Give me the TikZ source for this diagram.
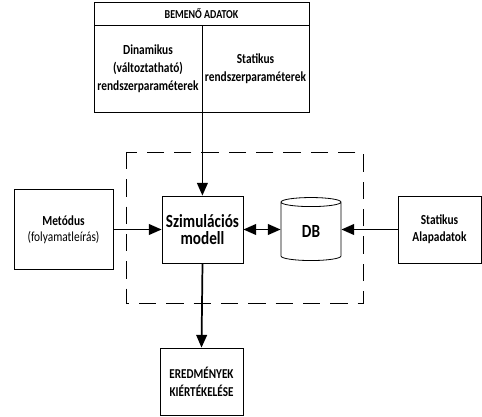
\documentclass[tikz,border=0pt]{standalone}
\usepackage{fontspec}
\setmainfont{Carlito}[FakeStretch=0.82]
\usetikzlibrary{arrows.meta,positioning,shapes.geometric}

\begin{document}
\begin{tikzpicture}[x=0.75pt,y=-0.75pt,>={Triangle[length=9.5pt,width=8pt]},
  box/.style={draw,line width=0.6pt,align=center,inner sep=0pt,font=\bfseries\fontsize{10.4}{13.3}\selectfont},
  flow/.style={->,line width=1.3pt}]
  \useasboundingbox (0,0) rectangle (482,417);
  % bemeno adatok
  \node[box,minimum width=161.25pt,minimum height=17.25pt,font=\bfseries\fontsize{9.1}{10}\selectfont] (hdr) at (201.5,13.5) {BEMENŐ ADATOK};
  \node[box,minimum width=81pt,minimum height=65.25pt] (dyn) at (148,68.5) {Dinamikus\\(változtatható)\\rendszerparaméterek};
  \node[box,minimum width=80.25pt,minimum height=65.25pt] (stat) at (255.5,68.5) {Statikus\\rendszerparaméterek};
  % modell keret
  \draw[line width=0.7pt,dash pattern=on 13pt off 7.5pt] (126,152) rectangle (363,303);
  \node[box,minimum width=74.25pt,minimum height=60pt,font=\fontsize{10.4}{12}\selectfont] (met) at (63.5,229.5) {\textbf{Metódus}\\(folyamatleírás)};
  \node[box,minimum width=60.75pt,minimum height=50.25pt,font=\bfseries\fontsize{13.9}{13.2}\selectfont] (szim) at (202.5,229.5) {Szimulációs\\modell};
  \node[box,cylinder,shape border rotate=90,aspect=0.5,fill=white,minimum width=45pt,minimum height=47.25pt,font=\bfseries\fontsize{13.9}{14}\selectfont] (db) at (311,231.5) {DB};
  \node[box,minimum width=62.25pt,minimum height=50.25pt,font=\bfseries\fontsize{10.4}{12.5}\selectfont] (alap) at (439.5,229.5) {Statikus\\Alapadatok};
  \node[box,minimum width=62.25pt,minimum height=50.25pt,font=\bfseries\fontsize{10.2}{13.5}\selectfont] (ered) at (201.5,381.5) {EREDMÉNYEK\\KIÉRTÉKELÉSE};
  % kapcsolatok
  \draw[flow] (dyn.south east) -- (dyn.south east |- szim.north);
  \draw[flow] (met.east) -- (szim.west);
  \draw[flow,<->] (szim.east) -- (szim.east -| db.west);
  \draw[flow] (alap.west) -- (alap.west -| db.east);
  \draw[flow] (szim.south) -- (ered.north);
\end{tikzpicture}
\end{document}
